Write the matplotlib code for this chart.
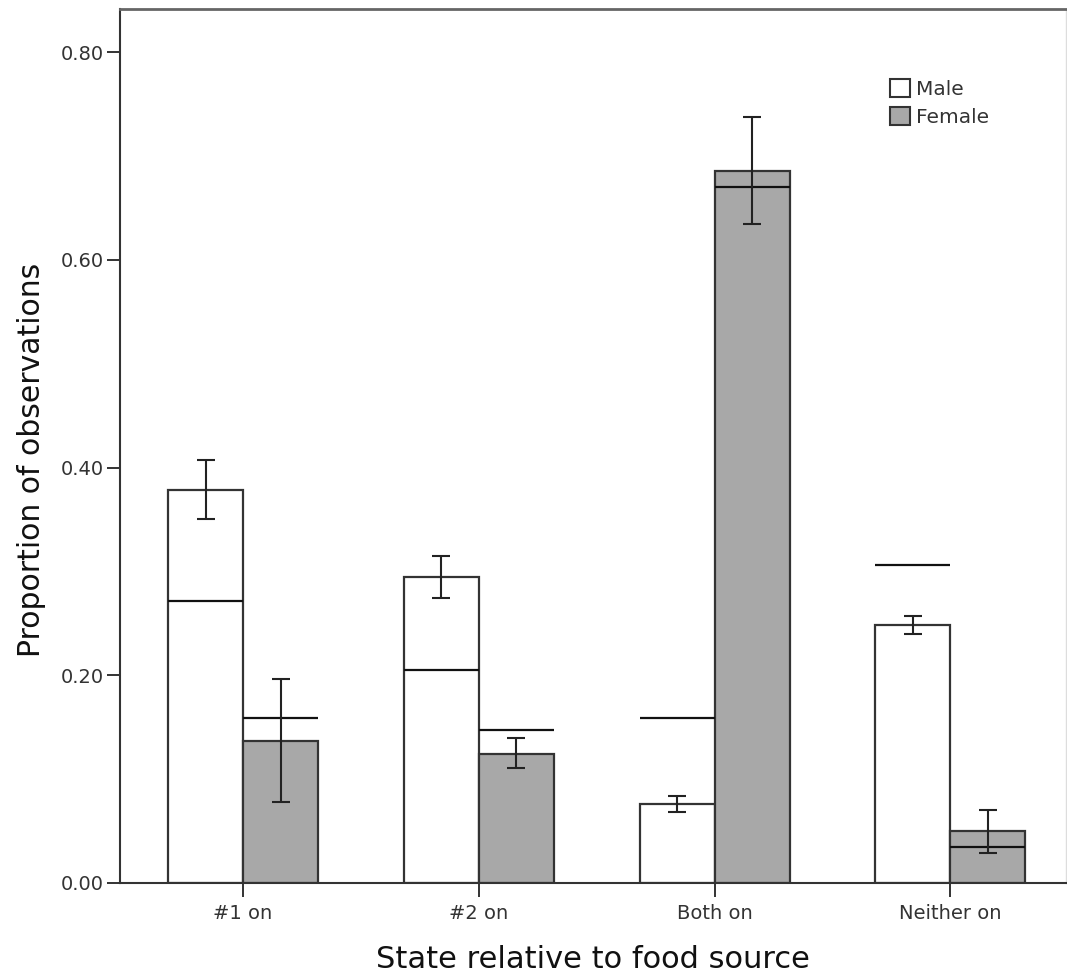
import numpy as np
import matplotlib
matplotlib.use('Agg')
import matplotlib.pyplot as plt
from matplotlib.patches import Patch

# values
categories = ['#1 on', '#2 on', 'Both on', 'Neither on']
male = [0.378, 0.295, 0.076, 0.248]
male_lo = [0.351, 0.274, 0.068, 0.240]
male_hi = [0.407, 0.315, 0.084, 0.257]
female = [0.137, 0.124, 0.686, 0.050]
female_lo = [0.078, 0.111, 0.635, 0.029]
female_hi = [0.196, 0.140, 0.738, 0.070]
# horizontal reference lines drawn across each bar
male_expected = [0.272, 0.205, 0.159, 0.306]
female_expected = [0.159, 0.147, 0.670, 0.035]

edge = '#333333'
grey = '#a8a8a8'
text_col = '#333333'

fig = plt.figure(figsize=(10.67, 9.76), dpi=100)
ax = fig.add_axes([0.1125, 0.0953, 0.8865, 0.8955])

x = np.arange(len(categories))
w = 0.318

ax.bar(x - w / 2, male, w, color='white', edgecolor=edge, linewidth=1.6, zorder=2)
ax.bar(x + w / 2, female, w, color=grey, edgecolor=edge, linewidth=1.6, zorder=2)

ax.hlines(male_expected, x - w, x, color='#111111', linewidth=1.6, zorder=3)
ax.hlines(female_expected, x, x + w, color='#111111', linewidth=1.6, zorder=3)

m = np.array(male)
f = np.array(female)
ax.errorbar(x - w / 2, m, yerr=[m - np.array(male_lo), np.array(male_hi) - m],
            fmt='none', ecolor='#222222', elinewidth=1.5, capsize=6.8, capthick=1.5, zorder=4)
ax.errorbar(x + w / 2, f, yerr=[f - np.array(female_lo), np.array(female_hi) - f],
            fmt='none', ecolor='#222222', elinewidth=1.5, capsize=6.8, capthick=1.5, zorder=4)

ax.set_xlim(-0.522, 3.49)
ax.set_ylim(0, 0.8417)
ax.set_yticks([0, 0.2, 0.4, 0.6, 0.8])
ax.set_yticklabels(['0.00', '0.20', '0.40', '0.60', '0.80'])
ax.set_xticks(x)
ax.set_xticklabels(categories)

ax.tick_params(axis='y', direction='out', length=9.5, width=1.4, color=edge,
               labelsize=14, labelcolor=text_col, pad=2)
ax.tick_params(axis='x', direction='out', length=10, width=1.4, color=edge,
               labelsize=14, labelcolor=text_col, pad=5)

for s in ['left', 'bottom']:
    ax.spines[s].set_color(edge)
    ax.spines[s].set_linewidth(1.5)
ax.spines['top'].set_color('#666666')
ax.spines['top'].set_linewidth(2)
ax.spines['right'].set_color('#dddddd')
ax.spines['right'].set_linewidth(1)

ax.set_xlabel('State relative to food source', fontsize=22, color='#111111', labelpad=16)
ax.set_ylabel('Proportion of observations', fontsize=21.5, color='#111111')
ax.yaxis.set_label_coords(-0.078, 0.484)

handles = [Patch(facecolor='white', edgecolor=edge, linewidth=1.5, label='Male'),
           Patch(facecolor=grey, edgecolor=edge, linewidth=1.5, label='Female')]
ax.legend(handles=handles, loc='upper left', bbox_to_anchor=(0.814, 0.92),
          frameon=False, fontsize=14.5, handlelength=1.0, handleheight=1.0,
          handletextpad=0.3, labelspacing=0.4, borderpad=0, borderaxespad=0,
          labelcolor=text_col)

fig.savefig('out.png', dpi=100)
